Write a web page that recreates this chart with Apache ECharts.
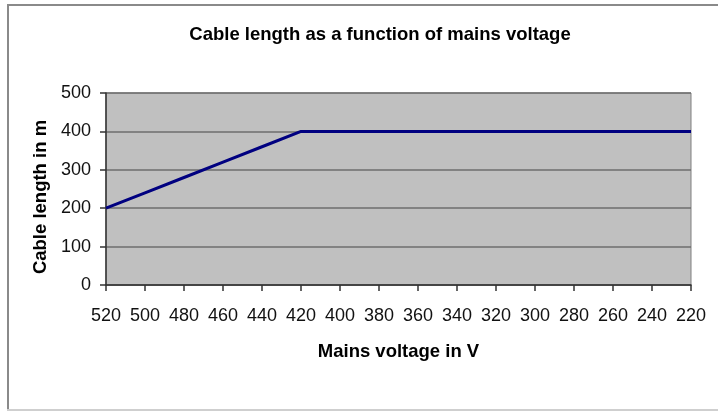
<!DOCTYPE html>
<html>
<head>
<meta charset="utf-8">
<script src="https://cdn.jsdelivr.net/npm/echarts@6/dist/echarts.min.js"></script>
<style>
  html, body { margin: 0; padding: 0; background: #fff; }
  #chart { width: 718px; height: 412px; }
</style>
</head>
<body>
<div id="chart"></div>
<script>
// Mains voltage steps (V), plotted from high to low
const voltages = ['520', '500', '480', '460', '440', '420', '400', '380', '360', '340', '320', '300', '280', '260', '240', '220'];
// Permissible cable length (m) at each voltage
const cableLength = [200, 240, 280, 320, 360, 400, 400, 400, 400, 400, 400, 400, 400, 400, 400, 400];

const FONT = '"Liberation Sans", Arial, sans-serif';

const chart = echarts.init(document.getElementById('chart'), null, { renderer: 'canvas' });
chart.setOption({
  backgroundColor: '#ffffff',
  animation: false,
  title: {
    text: 'Cable length as a function of mains voltage',
    left: 375,
    top: 20,
    textAlign: 'center',
    textStyle: { fontFamily: FONT, fontWeight: 'bold', fontSize: 18.5, color: '#000' }
  },
  graphic: [
    { type: 'line', shape: { x1: 8, y1: 4, x2: 8, y2: 410 }, style: { stroke: '#8a8a8a', lineWidth: 2 } },
    { type: 'line', shape: { x1: 7, y1: 5, x2: 718, y2: 5 }, style: { stroke: '#8a8a8a', lineWidth: 2 } },
    { type: 'line', shape: { x1: 7, y1: 410, x2: 718, y2: 410 }, style: { stroke: '#cfcfcf', lineWidth: 2 } }
  ],
  grid: {
    left: 106, right: 27, top: 93, bottom: 127,
    show: true,
    backgroundColor: '#c0c0c0',
    borderColor: '#808080',
    borderWidth: 1
  },
  xAxis: {
    type: 'category',
    data: voltages,
    boundaryGap: false,
    name: 'Mains voltage in V',
    nameLocation: 'middle',
    nameGap: 57,
    nameTextStyle: { fontFamily: FONT, fontWeight: 'bold', fontSize: 18.5, color: '#000' },
    axisLine: { lineStyle: { color: '#333', width: 1.5 } },
    axisTick: { show: true, length: 6, alignWithLabel: true, lineStyle: { color: '#333', width: 1.5 } },
    axisLabel: { fontFamily: FONT, fontSize: 18, color: '#111', margin: 22, interval: 0 },
    splitLine: { show: false }
  },
  yAxis: {
    type: 'value',
    min: 0, max: 500, interval: 100,
    name: 'Cable length in m',
    nameLocation: 'middle',
    nameGap: 50,
    nameRotate: 90,
    nameTextStyle: { fontFamily: FONT, fontWeight: 'bold', fontSize: 18.5, color: '#000', padding: [0, 16, 0, 0] },
    axisLine: { show: true, lineStyle: { color: '#333', width: 1.5 } },
    axisTick: { show: true, length: 6, lineStyle: { color: '#333', width: 1.5 } },
    axisLabel: { fontFamily: FONT, fontSize: 18, color: '#111', margin: 15 },
    splitLine: { show: true, lineStyle: { color: '#6e6e6e', width: 1.5 } }
  },
  series: [{
    type: 'line',
    data: cableLength,
    showSymbol: false,
    lineStyle: { color: '#000080', width: 3 },
    z: 5
  }]
});
</script>
</body>
</html>
